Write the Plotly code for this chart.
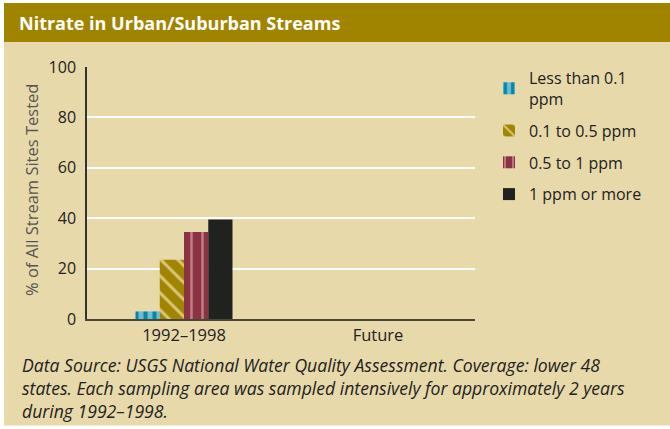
import plotly.graph_objects as go

categories = ["1992–1998", "Future"]
series_names = ["Less than 0.1<br>ppm", "0.1 to 0.5 ppm", "0.5 to 1 ppm", "1 ppm or more"]
values_lt01 = [3, None]
values_01_05 = [23.5, None]
values_05_1 = [34.5, None]
values_ge1 = [39.5, None]
y_ticks = [0, 20, 40, 60, 80, 100]

title_text = "Nitrate in Urban/Suburban Streams"
y_title = "% of All Stream Sites Tested"
footnote = ("Data Source: USGS National Water Quality Assessment. Coverage: lower 48<br>"
            "states. Each sampling area was sampled intensively for approximately 2 years<br>"
            "during 1992–1998.")

W, H = 670, 429
L, R, T, B = 87, 475, 67, 319

def px(x):
    return (x - L) / (R - L)

def py(y):
    return (B - y) / (B - T)

styles = [
    dict(color="#6cbdd2", pattern=dict(shape="|", bgcolor="#6cbdd2", fgcolor="#0585a8", size=9, solidity=0.45, fillmode="replace")),
    dict(color="#a08600", pattern=dict(shape="\\", bgcolor="#a08600", fgcolor="#dcc47a", size=12, solidity=0.25, fillmode="replace")),
    dict(color="#8a3345", pattern=dict(shape="|", bgcolor="#8a3345", fgcolor="#c47f80", size=11, solidity=0.22, fillmode="replace")),
    dict(color="#202220"),
]

fig = go.Figure()
for i, (name, vals) in enumerate(zip(series_names, [values_lt01, values_01_05, values_05_1, values_ge1])):
    fig.add_trace(go.Bar(
        x=categories, y=vals, name=name, legendgroup=f"g{i}",
        marker=dict(line=dict(width=0), **styles[i]),
    ))

fig.update_layout(
    width=W, height=H,
    margin=dict(l=L, r=W - R, t=T, b=H - B, pad=0),
    paper_bgcolor="white", plot_bgcolor="rgba(0,0,0,0)",
    barmode="group", bargap=0.5, bargroupgap=0,
    font=dict(family="Open Sans, sans-serif", color="#222222"),
    showlegend=True,
    legend=dict(x=px(489), y=py(61), xanchor="left", yanchor="top",
                bgcolor="rgba(0,0,0,0)", font=dict(size=16, color="#222222"),
                tracegroupgap=8, traceorder="grouped", itemwidth=30),
    xaxis=dict(showline=True, linecolor="#4a473a", linewidth=2, ticks="",
               tickfont=dict(size=16.5, color="#222222"), showgrid=False),
    yaxis=dict(range=[0, 100], tickvals=y_ticks, showline=True, linecolor="#333333",
               linewidth=1.5, ticks="", tickfont=dict(size=16, color="#222222"),
               showgrid=True, gridcolor="white", gridwidth=1.5, zeroline=False,
               ticklabelstandoff=6),
    shapes=[
        dict(type="rect", xref="paper", yref="paper", x0=px(4), x1=px(670), y0=py(425.5), y1=py(3),
             fillcolor="#e8d9ab", line=dict(width=0), layer="below"),
        dict(type="rect", xref="paper", yref="paper", x0=px(4), x1=px(670), y0=py(42), y1=py(3),
             fillcolor="#a08400", line=dict(width=0), layer="below"),
    ],
    annotations=[
        dict(text=f"<b>{title_text}</b>", xref="paper", yref="paper", x=px(17), y=py(23),
             xanchor="left", yanchor="middle", showarrow=False,
             font=dict(size=18, color="white", family="Open Sans, sans-serif")),
        dict(text=y_title, xref="paper", yref="paper", x=px(31), y=py(190),
             xanchor="center", yanchor="middle", showarrow=False, textangle=-90,
             font=dict(size=16.5, color="#555555")),
        dict(text=f"<i>{footnote}</i>", xref="paper", yref="paper", x=px(20), y=py(388),
             xanchor="left", yanchor="middle", align="left", showarrow=False,
             font=dict(size=17.6, color="#222222")),
    ],
)

fig.write_html("out.html", config={"displayModeBar": False},
               post_script="document.body.style.margin='0';")
